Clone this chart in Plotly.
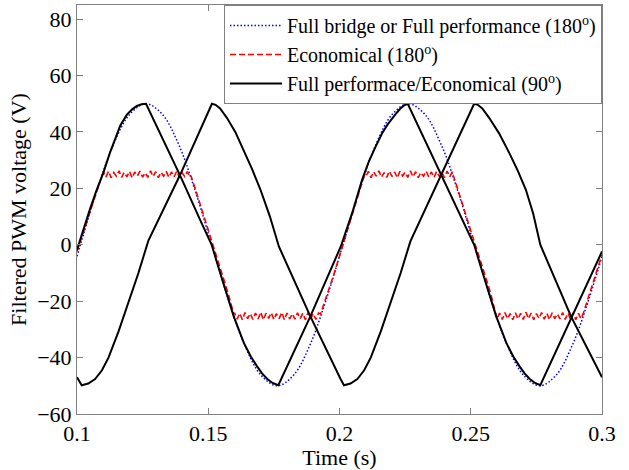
import plotly.graph_objects as go

# ---- Full bridge / Full performance (180 deg): blue dotted
blue_t = [0.100, 0.1013, 0.10755, 0.1138, 0.12005, 0.1263, 0.13255, 0.1388, 0.14505,
          0.1513, 0.15755, 0.1638, 0.17005, 0.1763, 0.18255, 0.1888, 0.19505,
          0.2013, 0.20755, 0.2138, 0.22005, 0.2263, 0.23255, 0.2388, 0.24505,
          0.2513, 0.25755, 0.2638, 0.27005, 0.2763, 0.28255, 0.2888, 0.29505, 0.300]
blue_v = [-4.1, 0, 19.1, 35.4, 46.2, 50, 46.2, 35.4, 19.1,
          0, -19.1, -35.4, -46.2, -50, -46.2, -35.4, -19.1,
          0, 19.1, 35.4, 46.2, 50, 46.2, 35.4, 19.1,
          0, -19.1, -35.4, -46.2, -50, -46.2, -35.4, -19.1, -4.1]

# ---- Economical (180 deg): red dashed, segments
red_rise0_t = [0.100, 0.1025, 0.105, 0.1075, 0.1094]
red_rise0_v = [-2.4, 4.8, 12.0, 19.0, 24.5]
red_flat1_v = [25.9, 24.0, 26.1, 23.8, 25.6, 24.3, 26.2, 23.9, 25.7, 24.1, 26.0, 23.7,
               25.8, 24.4, 26.1, 24.0, 25.5, 23.9, 26.2, 24.2, 25.9, 23.8, 25.7, 24.3,
               26.0, 23.9, 25.8, 24.1, 26.1, 23.8, 25.6, 24.2, 25.9, 24.0]
red_fall1_t = [0.1434, 0.145, 0.1475, 0.150, 0.1525, 0.155, 0.1575, 0.1597]
red_fall1_v = [24.5, 20.0, 12.5, 5.0, -2.0, -9.5, -17.0, -24.5]
red_flat2_v = [-24.1, -26.4, -24.3, -26.6, -24.0, -26.2, -24.4, -26.5, -24.2, -26.3, -23.9,
               -26.6, -24.3, -26.1, -24.1, -26.5, -24.4, -26.2, -24.0, -26.6, -24.2, -26.3,
               -24.5, -26.4, -24.1, -26.2, -24.3, -26.6, -24.0, -26.3, -24.4, -26.5, -24.2]
red_rise1_t = [0.1928, 0.195, 0.1975, 0.200, 0.2025, 0.205, 0.2075, 0.2094]
red_rise1_v = [-24.5, -18.5, -11.5, -4.0, 3.5, 11.0, 18.5, 24.5]
red_flat3_v = [24.1, 26.0, 23.8, 25.9, 24.3, 26.2, 24.0, 25.6, 23.9, 26.1, 24.2, 25.8,
               23.7, 26.0, 24.4, 25.7, 23.9, 26.2, 24.1, 25.9, 23.8, 25.6, 24.3, 26.1,
               24.0, 25.8, 23.9, 26.0, 24.2, 25.7, 23.8, 26.1, 24.1, 25.9]
red_fall2_t = [0.2434, 0.245, 0.2475, 0.250, 0.2525, 0.255, 0.2575, 0.2597]
red_fall2_v = [24.5, 20.0, 12.5, 5.0, -2.0, -9.5, -17.0, -24.5]
red_flat4_v = [-26.3, -24.2, -26.5, -24.0, -26.2, -24.4, -26.6, -24.1, -26.3, -24.3, -26.5,
               -23.9, -26.2, -24.2, -26.6, -24.4, -26.1, -24.0, -26.4, -24.3, -26.6, -24.1,
               -26.2, -24.5, -26.3, -24.0, -26.5, -24.2, -26.4, -24.1, -26.6, -24.3, -26.2]
red_rise2_t = [0.2928, 0.295, 0.2975, 0.300]
red_rise2_v = [-24.5, -18.0, -11.0, -3.5]

flat1_t = [round(0.110 + 0.001 * i, 4) for i in range(len(red_flat1_v))]
flat2_t = [round(0.160 + 0.001 * i, 4) for i in range(len(red_flat2_v))]
flat3_t = [round(0.210 + 0.001 * i, 4) for i in range(len(red_flat3_v))]
flat4_t = [round(0.260 + 0.001 * i, 4) for i in range(len(red_flat4_v))]

red_t = (red_rise0_t + flat1_t + red_fall1_t + flat2_t + red_rise1_t + flat3_t
         + red_fall2_t + flat4_t + red_rise2_t)
red_v = (red_rise0_v + red_flat1_v + red_fall1_v + red_flat2_v + red_rise1_v + red_flat3_v
         + red_fall2_v + red_flat4_v + red_rise2_v)

# ---- Full performance / Economical (90 deg): two black curves
blackA_t = [0.100, 0.1025, 0.105, 0.1075, 0.110, 0.1125, 0.1145, 0.1165, 0.119, 0.121, 0.1228,
            0.1246, 0.1263,
            0.133, 0.1393, 0.1469, 0.1513, 0.1535, 0.156, 0.1597, 0.1636, 0.1662, 0.1686, 0.1705,
            0.1725, 0.1745, 0.1767,
            0.1889, 0.2005, 0.2048, 0.2086, 0.2112, 0.2138, 0.2163, 0.2183, 0.2201, 0.2218,
            0.2232, 0.2246, 0.226,
            0.2389, 0.2481, 0.2513, 0.2535, 0.256, 0.2597, 0.2636, 0.2662, 0.2686, 0.2705,
            0.2725, 0.2745, 0.2765,
            0.2885, 0.300]
blackA_v = [-1.8, 5.6, 12.8, 19.5, 25.4, 32.5, 37.8, 42.3, 46.1, 48.0, 49.2,
            49.8, 50.0,
            37.0, 24.5, 8.8, 0.0, -6.8, -14.5, -25.4, -34.9, -39.6, -43.1, -45.6,
            -47.6, -49.0, -49.8,
            -25.4, -0.6, 11.2, 23.0, 29.6, 34.9, 39.6, 42.6, 44.9, 46.8,
            48.3, 49.4, 50.0,
            24.5, 6.4, 0.0, -6.8, -14.5, -25.4, -34.9, -39.6, -43.1, -45.6,
            -47.6, -49.0, -49.8,
            -25.4, -2.4]

blackB_t = [0.100, 0.1018, 0.1043, 0.1069, 0.1095, 0.112, 0.1158, 0.1196, 0.1234, 0.1272,
            0.1393, 0.1514,
            0.1528, 0.1545, 0.1571, 0.1603, 0.1635, 0.1667, 0.1699, 0.1735, 0.1769,
            0.1889, 0.2004, 0.2017,
            0.2042, 0.2068, 0.2094, 0.2119, 0.2157, 0.2195, 0.2233, 0.227,
            0.2386, 0.2513,
            0.2527, 0.2544, 0.257, 0.2608, 0.2647, 0.2679, 0.271, 0.2738, 0.2765,
            0.2882, 0.300]
blackB_v = [-47.0, -49.8, -49.2, -47.6, -44.5, -40.0, -30.8, -20.4, -10.0, 1.5,
            24.8, 50.0,
            49.6, 48.3, 45.0, 40.0, 33.7, 26.8, 19.5, 10.0, -0.6,
            -25.4, -47.6, -49.8,
            -49.2, -47.6, -44.5, -40.0, -30.8, -20.4, -10.0, 1.2,
            24.8, 50.0,
            49.6, 48.3, 45.0, 39.5, 32.5, 26.3, 19.5, 11.0, 0.0,
            -25.4, -47.0]

x_ticks = [0.1, 0.15, 0.2, 0.25, 0.3]
x_tick_labels = ["0.1", "0.15", "0.2", "0.25", "0.3"]
y_ticks = [-60, -40, -20, 0, 20, 40, 60, 80]

FONT = "Liberation Serif"

fig = go.Figure()
fig.add_trace(go.Scatter(
    x=blue_t, y=blue_v, mode="lines", line_shape="spline",
    name="Full bridge or Full performance (180<sup>o</sup>)",
    line=dict(color="#0000ff", width=1.5, dash="1.5px,2px"),
))
fig.add_trace(go.Scatter(
    x=red_t, y=red_v, mode="lines",
    name="Economical (180<sup>o</sup>)",
    line=dict(color="#ff0000", width=1.6, dash="6px,3px"),
))
fig.add_trace(go.Scatter(
    x=blackA_t, y=blackA_v, mode="lines",
    name="Full performace/Economical (90<sup>o</sup>)", legendgroup="k",
    line=dict(color="#000000", width=2),
))
fig.add_trace(go.Scatter(
    x=blackB_t, y=blackB_v, mode="lines",
    name="Full performace/Economical (90<sup>o</sup>)", legendgroup="k", showlegend=False,
    line=dict(color="#000000", width=2),
))

axis_common = dict(
    showgrid=False, zeroline=False, showline=True, linecolor="#808080", linewidth=1,
    mirror="ticks", ticks="inside", ticklen=6, tickcolor="#808080",
    tickfont=dict(family=FONT, size=22, color="black"),
)
fig.update_layout(
    width=629, height=470,
    margin=dict(l=77, r=27, t=5, b=56),
    paper_bgcolor="white", plot_bgcolor="white",
    font=dict(family=FONT, size=22, color="black"),
    xaxis=dict(range=[0.1, 0.3], tickvals=x_ticks, ticktext=x_tick_labels,
               title=dict(text="Time (s)", font=dict(family=FONT, size=22), standoff=2),
               **axis_common),
    yaxis=dict(range=[-60, 85], tickvals=y_ticks,
               title=dict(text="Filtered PWM voltage (V)", font=dict(family=FONT, size=22), standoff=4),
               **axis_common),
    legend=dict(x=1, y=1, xanchor="right", yanchor="top", bgcolor="white",
                bordercolor="#808080", borderwidth=1,
                font=dict(family=FONT, size=20, color="black"),
                tracegroupgap=0, itemwidth=52),
    showlegend=True,
)

fig.write_html("out.html")
